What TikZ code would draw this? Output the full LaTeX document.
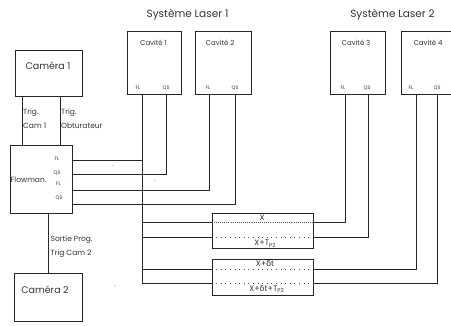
\documentclass[tikz,border=0pt]{standalone}
\usepackage{fontspec}
\setmainfont{Poppins}
\newfontfamily\grk{DejaVu Sans}
\begin{document}
\begin{tikzpicture}[x=1pt,y=-1pt,
  box/.style={draw=black!85, line width=0.8pt, inner sep=0pt},
  wire/.style={draw=black!85, line width=0.8pt},
  txt/.style={inner sep=0pt, text=black!80},
  big/.style={txt, font=\fontsize{10.5}{12}\selectfont},
  med/.style={txt, font=\fontsize{9.5}{10}\selectfont},
  sml/.style={txt, font=\fontsize{7.5}{9}\selectfont},
  cav/.style={txt, font=\fontsize{7}{8}\selectfont},
  port/.style={txt, font=\fontsize{5}{5}\selectfont},
  dly/.style={txt, font=\fontsize{8}{8}\selectfont},
  densedots/.style={draw=black!70, line width=0.5pt, dash pattern=on 0.5pt off 1.6pt},
  sparsedots/.style={draw=black!70, line width=0.6pt, dash pattern=on 0.6pt off 4pt},
  speck/.style={fill=black!70}]
\useasboundingbox (0,0) rectangle (451,326);
\clip (0,0) rectangle (451,326);

% boxes
\node[box, minimum width=67pt, minimum height=46pt] (cam1) at (48.5,73) {};
\node[box, minimum width=62pt, minimum height=68pt] (flow) at (41,179) {};
\node[box, minimum width=68pt, minimum height=48pt] (cam2) at (48,297) {};
\node[box, minimum width=54pt, minimum height=63pt] (cav1) at (154,62.5) {};
\node[box, minimum width=56pt, minimum height=63pt] (cav2) at (223,62.5) {};
\node[box, minimum width=55pt, minimum height=63pt] (cav3) at (357.5,62.5) {};
\node[box, minimum width=60pt, minimum height=63pt] (cav4) at (431,62.5) {};
\node[box, minimum width=101pt, minimum height=35pt] (d1) at (262.5,230.5) {};
\node[box, minimum width=101pt, minimum height=36pt] (d2) at (262.5,277) {};

% texts
\node[big] (t1) at (187.5,15) {Système Laser 1};
\node[big] (t2) at (392.5,15) {Système Laser 2};
\node[med] (cam1t) at (48,66) {Caméra 1};
\node[med] (cam2t) at (45,290) {Caméra 2};
\node[cav] (cav1t) at (153.5,43) {Cavité 1};
\node[cav] (cav2t) at (220,43) {Cavité 2};
\node[cav] (cav3t) at (356,43) {Cavité 3};
\node[cav] (cav4t) at (428,43) {Cavité 4};
\node[sml, anchor=west] (tg1) at (23,113) {Trig.};
\node[sml, anchor=west] (tg2) at (23,126) {Cam 1};
\node[sml, anchor=west] (tg3) at (61,113) {Trig.};
\node[sml, anchor=west] (tg4) at (61,126) {Obturateur};
\node[sml, anchor=west] (sp1) at (50.5,240) {Sortie Prog.};
\node[sml, anchor=west] (sp2) at (50.5,254) {Trig Cam 2};
\node[sml, anchor=west] (fm) at (10.5,180) {Flowman.};
% ports
\node[port] (f1) at (57,159) {FL};
\node[port] (f2) at (57,173) {QS};
\node[port] (f3) at (58.5,184) {FL};
\node[port] (f4) at (59,198) {QS};
\node[port] (c1a) at (138,88) {FL};
\node[port] (c1b) at (166,88) {QS};
\node[port] (c2a) at (208,88) {FL};
\node[port] (c2b) at (235,88) {QS};
\node[port] (c3a) at (343,88) {FL};
\node[port] (c3b) at (367,88) {QS};
\node[port] (c4a) at (411,88) {FL};
\node[port] (c4b) at (437,88) {QS};

% columns and rows
\coordinate (tc1) at (22,0);
\coordinate (tc2) at (60,0);
\coordinate (vc) at (48,0);
\coordinate (k1) at (142,0);
\coordinate (k2) at (166,0);
\coordinate (k3) at (209.5,0);
\coordinate (k4) at (235,0);
\coordinate (k5) at (345,0);
\coordinate (k6) at (368,0);
\coordinate (k7) at (416,0);
\coordinate (k8) at (437.5,0);
\coordinate (r1) at (0,160.7);
\coordinate (r2) at (0,174.7);
\coordinate (r3) at (0,190.7);
\coordinate (r4) at (0,204.3);
\coordinate (r5) at (0,222);
\coordinate (r6) at (0,237);
\coordinate (r7) at (0,269.5);
\coordinate (r8) at (0,283.5);

% wires
\draw[wire] (cam1.south -| tc1) -- (flow.north -| tc1);
\draw[wire] (cam1.south -| tc2) -- (flow.north -| tc2);
\draw[wire] (flow.south -| vc) -- (cam2.north -| vc);
\draw[wire] (flow.east |- r1) -- (k1 |- r1);
\draw[wire] (cav1.south -| k1) -- (k1 |- r8) -- (d2.west |- r8);
\draw[wire] (flow.east |- r2) -- (k2 |- r2) -- (cav1.south -| k2);
\draw[wire] (flow.east |- r3) -- (k3 |- r3) -- (cav2.south -| k3);
\draw[wire] (flow.east |- r4) -- (k4 |- r4) -- (cav2.south -| k4);
\draw[wire] (k1 |- r5) -- (d1.west |- r5);
\draw[wire] (k1 |- r6) -- (d1.west |- r6);
\draw[wire] (k1 |- r7) -- (d2.west |- r7);
\draw[wire] (d1.east |- r5) -- (k5 |- r5) -- (cav3.south -| k5);
\draw[wire] (d1.east |- r6) -- (k6 |- r6) -- (cav3.south -| k6);
\draw[wire] (d2.east |- r7) -- (k7 |- r7) -- (cav4.south -| k7);
\draw[wire] (d2.east |- r8) -- (k8 |- r8) -- (cav4.south -| k8);

% dotted lines in delay boxes
\draw[densedots] (d1.west |- r5) -- (d1.east |- r5);
\draw[sparsedots] (d1.west |- r6) -- (d1.east |- r6);
\draw[sparsedots] (d2.west |- r7) -- (d2.east |- r7);
\draw[sparsedots] (d2.west |- r8) -- (d2.east |- r8);

% delay labels
\node[dly] (x1) at (262,218) {X};
\node[dly] (x2) at (265,243.5) {X+T\raisebox{-0.35ex}{\fontsize{5.5}{5.5}\selectfont P2}};
\node[dly] (x3) at (265,264) {X+{\grk δ}t};
\node[dly] (x4) at (266.5,289) {X+{\grk δ}t+T\raisebox{-0.35ex}{\fontsize{5.5}{5.5}\selectfont P2}};

% specks
\fill[speck] (113,166) circle (0.5);
\fill[speck] (155,181) circle (0.5);
\fill[speck] (115,286) circle (0.5);
\fill[speck] (72,178) circle (0.4);
\end{tikzpicture}
\end{document}
